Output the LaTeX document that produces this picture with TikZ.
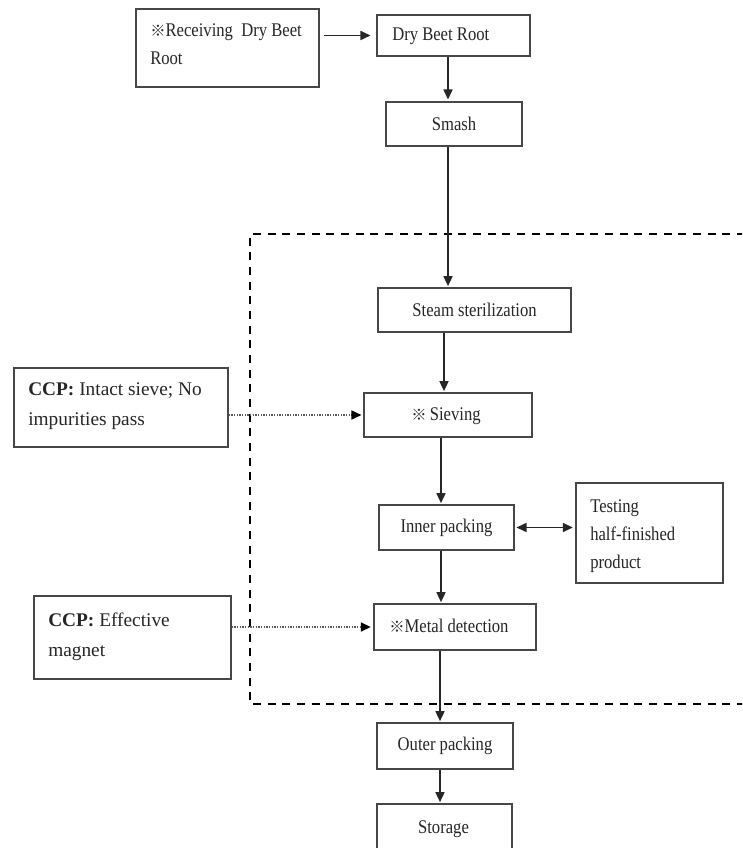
\documentclass[tikz,border=0pt]{standalone}
\usepackage{fontspec}
\setmainfont{Liberation Serif}[FakeStretch=0.86]
\newfontfamily\plainserif{Liberation Serif}
\newfontfamily\cjk{Noto Sans CJK SC}
\usetikzlibrary{arrows.meta,calc}
\newcommand{\refmark}{{\cjk\fontsize{11.5pt}{12pt}\selectfont ※}}
\tikzset{
  sz/.style 2 args={minimum width=#1*0.75pt, minimum height=#2*0.75pt},
  box/.style={draw=black!72, line width=0.8pt, inner sep=0pt, font=\fontsize{14.5pt}{21pt}\selectfont, text=black!85},
  txt/.style={inner sep=0pt, align=left, anchor=base west, font=\fontsize{14.5pt}{21pt}\selectfont, text=black!85},
  ccptxt/.style={txt, font=\plainserif\fontsize{14.5pt}{22pt}\selectfont},
  flow/.style={draw=black!85, line width=1.1pt, -{Triangle[length=7.5pt,width=6.8pt]}},
  both/.style={draw=black!85, line width=1.1pt, {Triangle[length=7.5pt,width=6.8pt]}-{Triangle[length=7.5pt,width=6.8pt]}},
  ccparrow/.style={draw=black!65, line width=1pt, densely dotted, -{Triangle[length=7.5pt,width=6.8pt,color=black]}},
  zone/.style={draw=black, line width=1.9pt, dash pattern=on 6pt off 5pt}
}
\begin{document}
\begin{tikzpicture}[x=0.75pt,y=-0.75pt]
\useasboundingbox (0,0) rectangle (742,848);
\clip (0,0) rectangle (742,848);
% boxes
\node[box, sz={183}{78}] (recv) at (227.5,48) {};
\node[box, sz={153}{41}] (dbr) at (453.5,35.5) {};
\node[box, sz={136}{44}] (smash) at (454,124) {Smash};
\node[box, sz={193}{44}] (steam) at (474.5,310) {Steam sterilization};
\node[box, sz={168}{44}] (sieve) at (448,415) {};
\node[box, sz={214}{79}] (ccp1) at (121,407.5) {};
\node[box, sz={135}{45}] (inner) at (446.5,527.5) {Inner packing};
\node[box, sz={147}{100}] (test) at (649.5,533) {};
\node[box, sz={162}{46}] (metal) at (455,627) {};
\node[box, sz={197}{83}] (ccp2) at (132.5,637.5) {};
\node[box, sz={136}{46}] (outer) at (445,746) {Outer packing};
\node[box, sz={135}{66}] (storage) at (444.5,837) {};
% texts
\node[txt] at (150,37) {\refmark Receiving\ \ Dry Beet};
\node[txt] at (150,65) {Root};
\node[txt] at (392,41) {Dry Beet Root};
\node[txt] at (411,420) {\refmark\,Sieving};
\node[ccptxt] at (28,395) {\textbf{CCP:} Intact sieve; No};
\node[ccptxt] at (28,425) {impurities pass};
\node[txt] at (590,512) {Testing};
\node[txt] at (590,540) {half-finished};
\node[txt] at (590,568) {product};
\node[txt] at (389,632) {\refmark Metal detection};
\node[ccptxt] at (48,626) {\textbf{CCP:} Effective};
\node[ccptxt] at (48,656) {magnet};
\node[txt, anchor=base] at (443.5,833) {Storage};
% dashed zone (right side lies outside the picture)
\coordinate (zr1) at (745,234);
\coordinate (zl1) at (250,234);
\coordinate (zl2) at (250,704);
\coordinate (zr2) at (745,704);
\draw[zone] (zr1) -- (zl1) -- (zl2) -- (zr2);
% main flow
\coordinate (a) at (448,0);
\coordinate (b) at (444,0);
\coordinate (c) at (441,0);
\coordinate (d) at (440,0);
\draw[flow, shorten <=3pt, shorten >=4.5pt] (recv.east |- dbr.west) -- (dbr.west);
\draw[flow, shorten >=1.5pt] (a |- dbr.south) -- (a |- smash.north);
\draw[flow, shorten >=1pt] (a |- smash.south) -- (a |- steam.north);
\draw[flow, shorten >=1pt] (b |- steam.south) -- (b |- sieve.north);
\draw[flow, shorten >=1pt] (c |- sieve.south) -- (c |- inner.north);
\draw[flow, shorten >=1pt] (c |- inner.south) -- (c |- metal.north);
\draw[flow, shorten >=1pt] (d |- metal.south) -- (d |- outer.north);
\draw[flow, shorten >=1pt] (d |- outer.south) -- (d |- storage.north);
\draw[both, shorten <=1.5pt, shorten >=2pt] (inner.east) -- (test.west |- inner.east);
% CCP links
\draw[ccparrow, shorten >=1.5pt] (ccp1.east |- sieve.west) -- (sieve.west);
\draw[ccparrow, shorten >=2pt] (ccp2.east |- metal.west) -- (metal.west);
\end{tikzpicture}
\end{document}
